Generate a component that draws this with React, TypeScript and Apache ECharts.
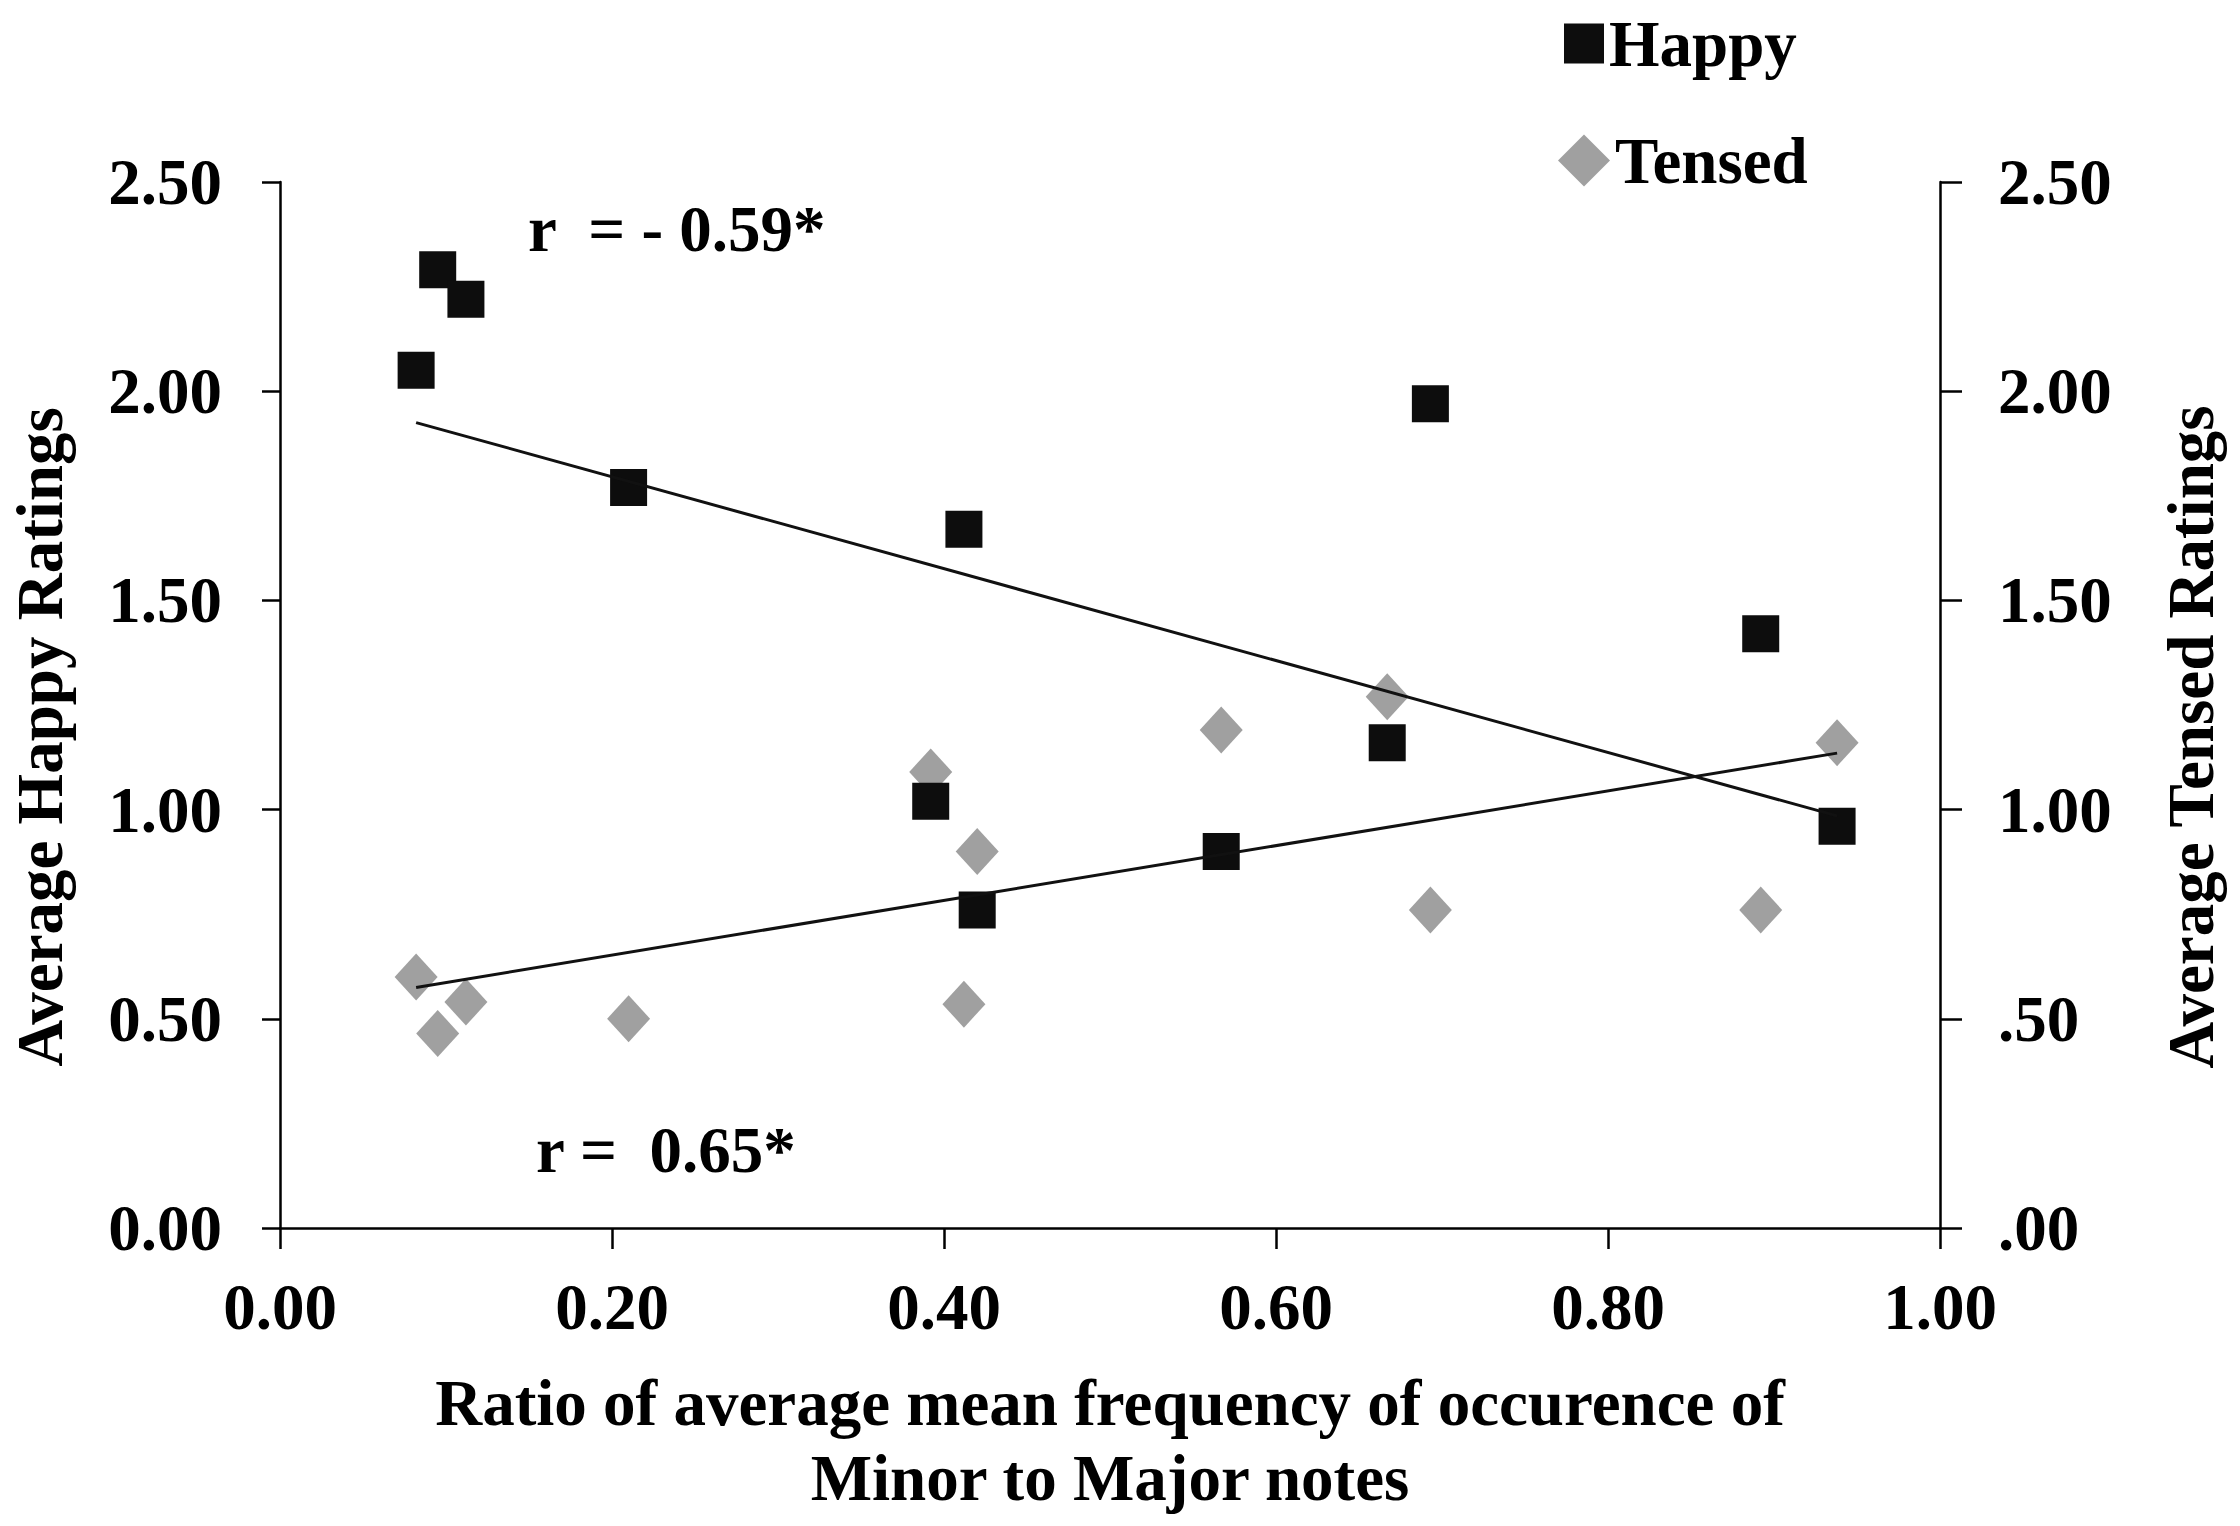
import React, { useEffect, useRef } from 'react';
import * as echarts from 'echarts';

// values
const happyX = [0.082, 0.095, 0.112, 0.21, 0.412, 0.693, 0.892, 0.667, 0.392, 0.42, 0.567, 0.938];
const happyY = [2.05, 2.29, 2.22, 1.77, 1.67, 1.97, 1.42, 1.16, 1.02, 0.76, 0.9, 0.96];
const tensedX = [0.082, 0.095, 0.112, 0.21, 0.392, 0.42, 0.412, 0.567, 0.667, 0.938, 0.693, 0.892];
const tensedY = [0.6, 0.465, 0.54, 0.5, 1.09, 0.9, 0.535, 1.19, 1.27, 1.16, 0.76, 0.76];

// fitted trend lines (end points)
const happyTrendX = [0.082, 0.938];
const happyTrendY = [1.925, 0.985];
const tensedTrendX = [0.082, 0.938];
const tensedTrendY = [0.575, 1.135];

const leftTicks = ['0.00', '0.50', '1.00', '1.50', '2.00', '2.50'];
const rightTicks = ['.00', '.50', '1.00', '1.50', '2.00', '2.50'];

const FONT = '"Liberation Serif", "Times New Roman", serif';

const pairs = (xs: number[], ys: number[]) => xs.map((x, i) => [x, ys[i]]);

const App: React.FC = () => {
  const chartRef = useRef<HTMLDivElement>(null);

  useEffect(() => {
    const chart = echarts.init(chartRef.current!, null, { renderer: 'svg' });

    const text = { fontFamily: FONT, fontWeight: 'bold' as const, fontSize: 65, color: '#000' };
    const axisLine = { show: true, lineStyle: { color: '#000', width: 2.5 } };

    chart.setOption({
      animation: false,
      backgroundColor: '#fff',
      grid: {
        left: 280,
        right: 300,
        top: 182,
        bottom: 298,
        containLabel: false,
        outerBoundsMode: 'none',
      },
      // one legend per entry so each icon gets its own size
      legend: [
        {
          left: 1559,
          top: 6,
          itemWidth: 40,
          itemHeight: 40,
          itemTextGap: 11,
          textStyle: text,
          data: [{ name: 'Happy', icon: 'rect', itemStyle: { color: '#0d0d0d' } }],
        },
        {
          left: 1553,
          top: 123,
          itemWidth: 52,
          itemHeight: 52,
          itemTextGap: 7,
          textStyle: text,
          data: [{ name: 'Tensed', icon: 'diamond', itemStyle: { color: '#a0a0a0' } }],
        },
      ],
      xAxis: {
        type: 'value',
        min: 0,
        max: 1,
        interval: 0.2,
        axisLine,
        axisTick: { show: true, length: 21, lineStyle: { color: '#000', width: 2.5 } },
        splitLine: { show: false },
        axisLabel: { ...text, margin: 46, formatter: (v: number) => v.toFixed(2) },
      },
      yAxis: [
        {
          type: 'value',
          position: 'left',
          min: 0,
          max: 2.5,
          interval: 0.5,
          axisLine,
          axisTick: { show: true, length: 18, lineStyle: { color: '#000', width: 2.5 } },
          splitLine: { show: false },
          axisLabel: {
            ...text,
            margin: 58,
            formatter: (v: number) => leftTicks[Math.round(v / 0.5)],
          },
        },
        {
          type: 'value',
          position: 'right',
          min: 0,
          max: 2.5,
          interval: 0.5,
          axisLine,
          axisTick: { show: true, length: 22, lineStyle: { color: '#000', width: 2.5 } },
          splitLine: { show: false },
          axisLabel: {
            ...text,
            margin: 58,
            formatter: (v: number) => rightTicks[Math.round(v / 0.5)],
          },
        },
      ],
      series: [
        {
          name: 'Happy',
          type: 'scatter',
          symbol: 'rect',
          symbolSize: 37,
          yAxisIndex: 0,
          itemStyle: { color: '#0d0d0d', opacity: 1 },
          data: pairs(happyX, happyY),
          z: 3,
        },
        {
          name: 'Tensed',
          type: 'scatter',
          symbol: 'diamond',
          symbolSize: [43, 47],
          yAxisIndex: 1,
          itemStyle: { color: '#a0a0a0', opacity: 1 },
          data: pairs(tensedX, tensedY),
          z: 2,
        },
        {
          name: 'Happy trend',
          type: 'line',
          yAxisIndex: 0,
          symbol: 'none',
          lineStyle: { color: '#111', width: 3 },
          data: pairs(happyTrendX, happyTrendY),
          z: 4,
        },
        {
          name: 'Tensed trend',
          type: 'line',
          yAxisIndex: 1,
          symbol: 'none',
          lineStyle: { color: '#111', width: 3 },
          data: pairs(tensedTrendX, tensedTrendY),
          z: 4,
        },
      ],
      graphic: [
        {
          type: 'text',
          x: 40,
          y: 737,
          rotation: Math.PI / 2,
          style: { text: 'Average Happy Ratings', font: `bold 65px ${FONT}`, fill: '#000', align: 'center', verticalAlign: 'middle' },
        },
        {
          type: 'text',
          x: 2191,
          y: 737,
          rotation: Math.PI / 2,
          style: { text: 'Average Tensed Ratings', font: `bold 65px ${FONT}`, fill: '#000', align: 'center', verticalAlign: 'middle' },
        },
        {
          type: 'text',
          x: 1110,
          y: 1440,
          style: {
            text: 'Ratio of average mean frequency of occurence of\nMinor to Major notes',
            font: `bold 65px ${FONT}`,
            fill: '#000',
            align: 'center',
            verticalAlign: 'middle',
            lineHeight: 75,
          },
        },
        {
          type: 'text',
          x: 528,
          y: 229,
          style: { text: 'r  = - 0.59*', font: `bold 65px ${FONT}`, fill: '#000', align: 'left', verticalAlign: 'middle' },
        },
        {
          type: 'text',
          x: 536,
          y: 1150,
          style: { text: 'r =  0.65*', font: `bold 65px ${FONT}`, fill: '#000', align: 'left', verticalAlign: 'middle' },
        },
      ],
    });

    return () => {
      chart.dispose();
    };
  }, []);

  return (
    <div
      ref={chartRef}
      style={{ position: 'fixed', left: 0, top: 0, width: '2240px', height: '1526px' }}
    />
  );
};

export default App;
